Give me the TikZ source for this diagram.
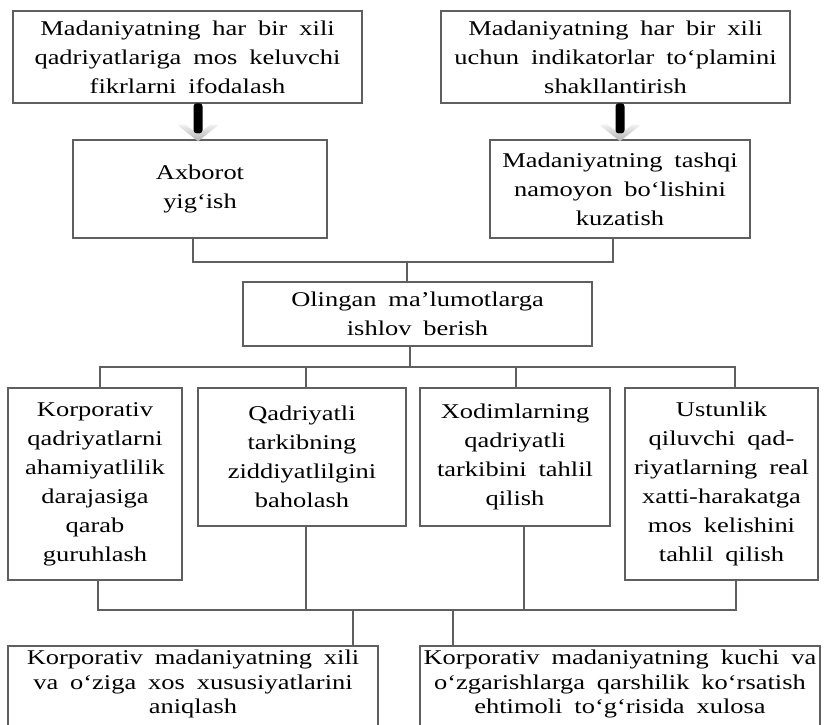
\documentclass[tikz,border=0pt]{standalone}
\usepackage{fontspec}
\setmainfont{Liberation Serif}[FakeStretch=1.26, WordSpace=1.8]
\definecolor{edge}{RGB}{95,95,95}
\begin{document}
\begin{tikzpicture}[x=1pt,y=-1pt,
  box/.style={draw=edge, line width=1.4pt, align=center, inner sep=0pt,
    font=\fontsize{21}{29}\selectfont, text=black},
  boxtext/.style={align=center, inner sep=0pt, text=black,
    font=\fontsize{21}{24.5}\selectfont},
  link/.style={draw=edge, line width=1.4pt},
  downarrow/.pic={
    \shade[top color=gray!10, bottom color=gray!60]
      (-20,-14) -- (0,2) -- (20,-14) -- (13,-15) -- (0,-5) -- (-13,-15) -- cycle;
    \fill[black, rounded corners=3pt] (-4.5,-36) rectangle (4.5,-6);
  }]
\useasboundingbox (0,0) rectangle (824,724);
\fill[white] (0,0) rectangle (824,724);

% first row
\node[box, minimum width=349pt, minimum height=92pt] (t1) at (187.5,57)
  {Madaniyatning har bir xili\\qadriyatlariga mos keluvchi\\fikrlarni ifodalash};
\node[box, minimum width=349pt, minimum height=92pt] (t2) at (615.5,57)
  {Madaniyatning har bir xili\\uchun indikatorlar to‘plamini\\shakllantirish};

% second row
\node[box, minimum width=254pt, minimum height=98pt] (a1) at (200,189)
  {Axborot\\yig‘ish};
\node[box, minimum width=260pt, minimum height=98pt] (a2) at (620,189)
  {Madaniyatning tashqi\\namoyon bo‘lishini\\kuzatish};

% block arrows between the first two rows
\coordinate (ar1) at (198,0);
\coordinate (ar2) at (620,0);
\pic at (a1.north -| ar1) {downarrow};
\pic at (a2.north -| ar2) {downarrow};

% processing step
\node[box, minimum width=349pt, minimum height=64pt] (ol) at (417.5,314)
  {Olingan ma’lumotlarga\\ishlov berish};

% third row
\node[box, minimum width=174pt, minimum height=192pt] (A) at (95,484)
  {Korporativ\\qadriyatlarni\\ahamiyatlilik\\darajasiga\\qarab\\guruhlash};
\node[box, minimum width=208pt, minimum height=138pt] (B) at (302,457)
  {Qadriyatli\\tarkibning\\ziddiyatlilgini\\baholash};
\node[box, minimum width=190pt, minimum height=138pt] (C) at (515,457)
  {Xodimlarning\\qadriyatli\\tarkibini tahlil\\qilish};
\node[box, minimum width=193pt, minimum height=192pt] (D) at (721.5,484)
  {Ustunlik\\qiluvchi qad-\\riyatlarning real\\xatti-harakatga\\mos kelishini\\tahlil qilish};

% conclusions: frames run past the lower page edge, texts sit near their tops
\node[box, minimum width=370pt, minimum height=90pt] (F1) at (193,691) {};
\node[box, minimum width=400pt, minimum height=90pt] (F2) at (620,691) {};
\node[boxtext] (F1t) at (193,684)
  {Korporativ madaniyatning xili\\va o‘ziga xos xususiyatlarini\\aniqlash};
\node[boxtext] (F2t) at (620,684)
  {Korporativ madaniyatning kuchi va\\o‘zgarishlarga qarshilik ko‘rsatish\\ehtimoli to‘g‘risida xulosa};

% bracket: second row -> processing
\coordinate (b1l) at (193,262);
\coordinate (b1r) at (613,262);
\coordinate (b1m) at (407,262);
\draw[link] (a1.south -| b1l) |- (b1r) -- (a2.south -| b1r);
\draw[link] (b1m) -- (ol.north -| b1m);

% bracket: processing -> third row
\coordinate (b2m) at (410,367);
\coordinate (b2a) at (100,367);
\coordinate (b2b) at (306,367);
\coordinate (b2c) at (516,367);
\coordinate (b2d) at (735,367);
\draw[link] (ol.south -| b2m) -- (b2m);
\draw[link] (A.north -| b2a) |- (b2d) -- (D.north -| b2d);
\draw[link] (b2b) -- (B.north -| b2b);
\draw[link] (b2c) -- (C.north -| b2c);

% bracket: third row -> conclusions
\coordinate (b3a) at (98,610);
\coordinate (b3b) at (306,610);
\coordinate (b3c) at (524,610);
\coordinate (b3d) at (736,610);
\coordinate (b3e) at (353,610);
\coordinate (b3f) at (453,610);
\draw[link] (A.south -| b3a) |- (b3d) -- (D.south -| b3d);
\draw[link] (B.south -| b3b) -- (b3b);
\draw[link] (C.south -| b3c) -- (b3c);
\draw[link] (b3e) -- (F1.north -| b3e);
\draw[link] (b3f) -- (F2.north -| b3f);
\end{tikzpicture}
\end{document}
